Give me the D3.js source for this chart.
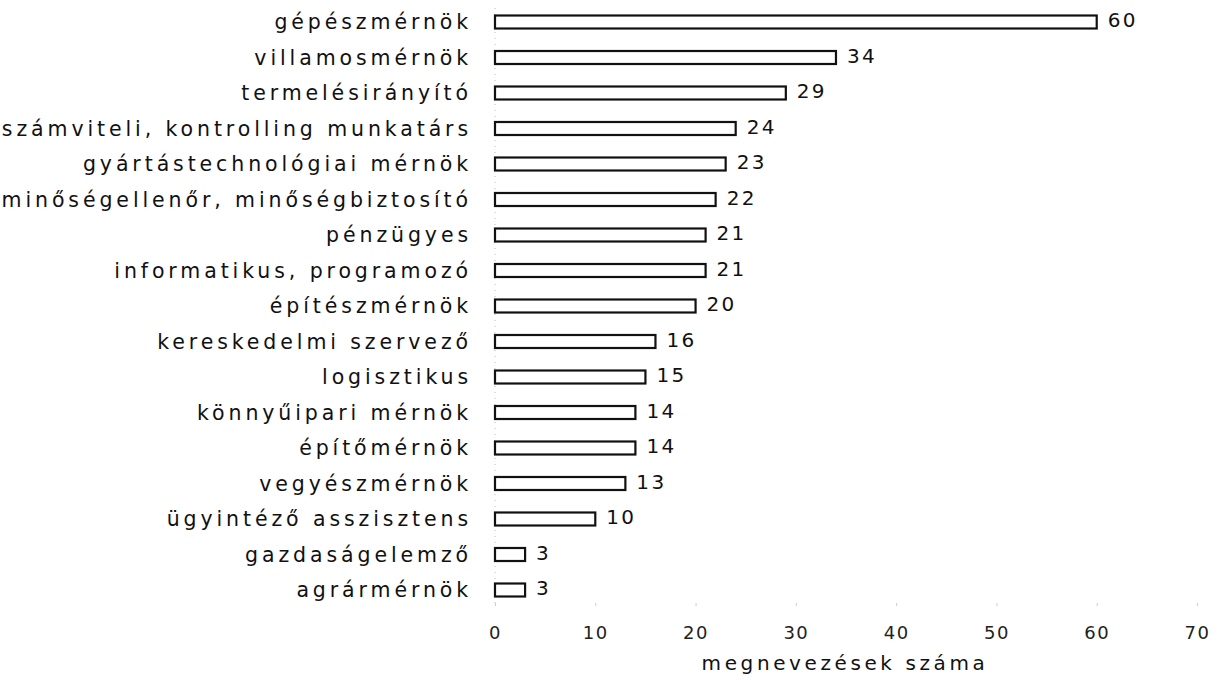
<!DOCTYPE html>
<html>
<head>
<meta charset="utf-8">
<script src="https://cdn.jsdelivr.net/npm/d3@7"></script>
<style>
  body { margin: 0; background: #fff; }
  svg text { font-family: "DejaVu Sans", sans-serif; fill: #111; }
  .cat { font-size: 20.5px; letter-spacing: 3.9px; }
  .val { font-size: 20px; letter-spacing: 2.3px; }
  .title { font-size: 20px; letter-spacing: 3.6px; }
  .x-axis text { font-size: 18px; letter-spacing: 1.5px; fill: #222; }
  .x-axis line { stroke: #ccc; }
  .x-axis path { display: none; }
</style>
</head>
<body>
<svg width="1219" height="680"></svg>
<script>
const categories = [
  "gépészmérnök", "villamosmérnök", "termelésirányító",
  "számviteli, kontrolling munkatárs", "gyártástechnológiai mérnök",
  "minőségellenőr, minőségbiztosító", "pénzügyes", "informatikus, programozó",
  "építészmérnök", "kereskedelmi szervező", "logisztikus", "könnyűipari mérnök",
  "építőmérnök", "vegyészmérnök", "ügyintéző asszisztens", "gazdaságelemző",
  "agrármérnök"
]
const values = [60, 34, 29, 24, 23, 22, 21, 21, 20, 16, 15, 14, 14, 13, 10, 3, 3]
const tickValues = [0, 10, 20, 30, 40, 50, 60, 70]
const axisTitle = "megnevezések száma"

const data = categories.map((c, i) => ({ name: c, value: values[i] }))

const svg = d3.select('svg')

const scaleX = d3.scaleLinear()
  .domain([0, 70])
  .range([495, 1197])

const scaleY = d3.scalePoint()
  .domain(categories)
  .range([22, 590])

const barH = 13

// axis
const axisX = d3.axisBottom(scaleX)
  .tickValues(tickValues)
  .tickSizeInner(3)
  .tickSizeOuter(0)
  .tickPadding(20)
  .tickFormat(d3.format("d"))

svg.append("g")
  .attr("class", "x-axis")
  .attr("transform", "translate(0, 603)")
  .call(axisX)

svg.append("line")
  .attr("x1", scaleX(0)).attr("x2", scaleX(0))
  .attr("y1", 8).attr("y2", 605)
  .attr("stroke", "#bbb")
  .attr("stroke-width", 1)
  .attr("stroke-dasharray", "1 5")

svg.append("text")
  .attr("class", "title")
  .attr("x", 845)
  .attr("y", 670)
  .attr("text-anchor", "middle")
  .text(axisTitle)

const rows = svg.selectAll("g.row")
  .data(data)
  .enter()
  .append("g")
  .attr("class", "row")
  .attr("transform", d => `translate(0, ${scaleY(d.name)})`)

rows.append("rect")
  .attr("x", scaleX(0))
  .attr("y", -barH / 2)
  .attr("width", d => scaleX(d.value) - scaleX(0))
  .attr("height", barH)
  .attr("fill", "#fff")
  .attr("stroke", "#111")
  .attr("stroke-width", 2.2)

rows.append("text")
  .attr("class", "cat")
  .attr("x", 472)
  .attr("y", 0)
  .attr("dy", "0.35em")
  .attr("text-anchor", "end")
  .text(d => d.name)

rows.append("text")
  .attr("class", "val")
  .attr("x", d => scaleX(d.value) + 11)
  .attr("y", -2)
  .attr("dy", "0.35em")
  .text(d => d.value)
</script>
</body>
</html>
